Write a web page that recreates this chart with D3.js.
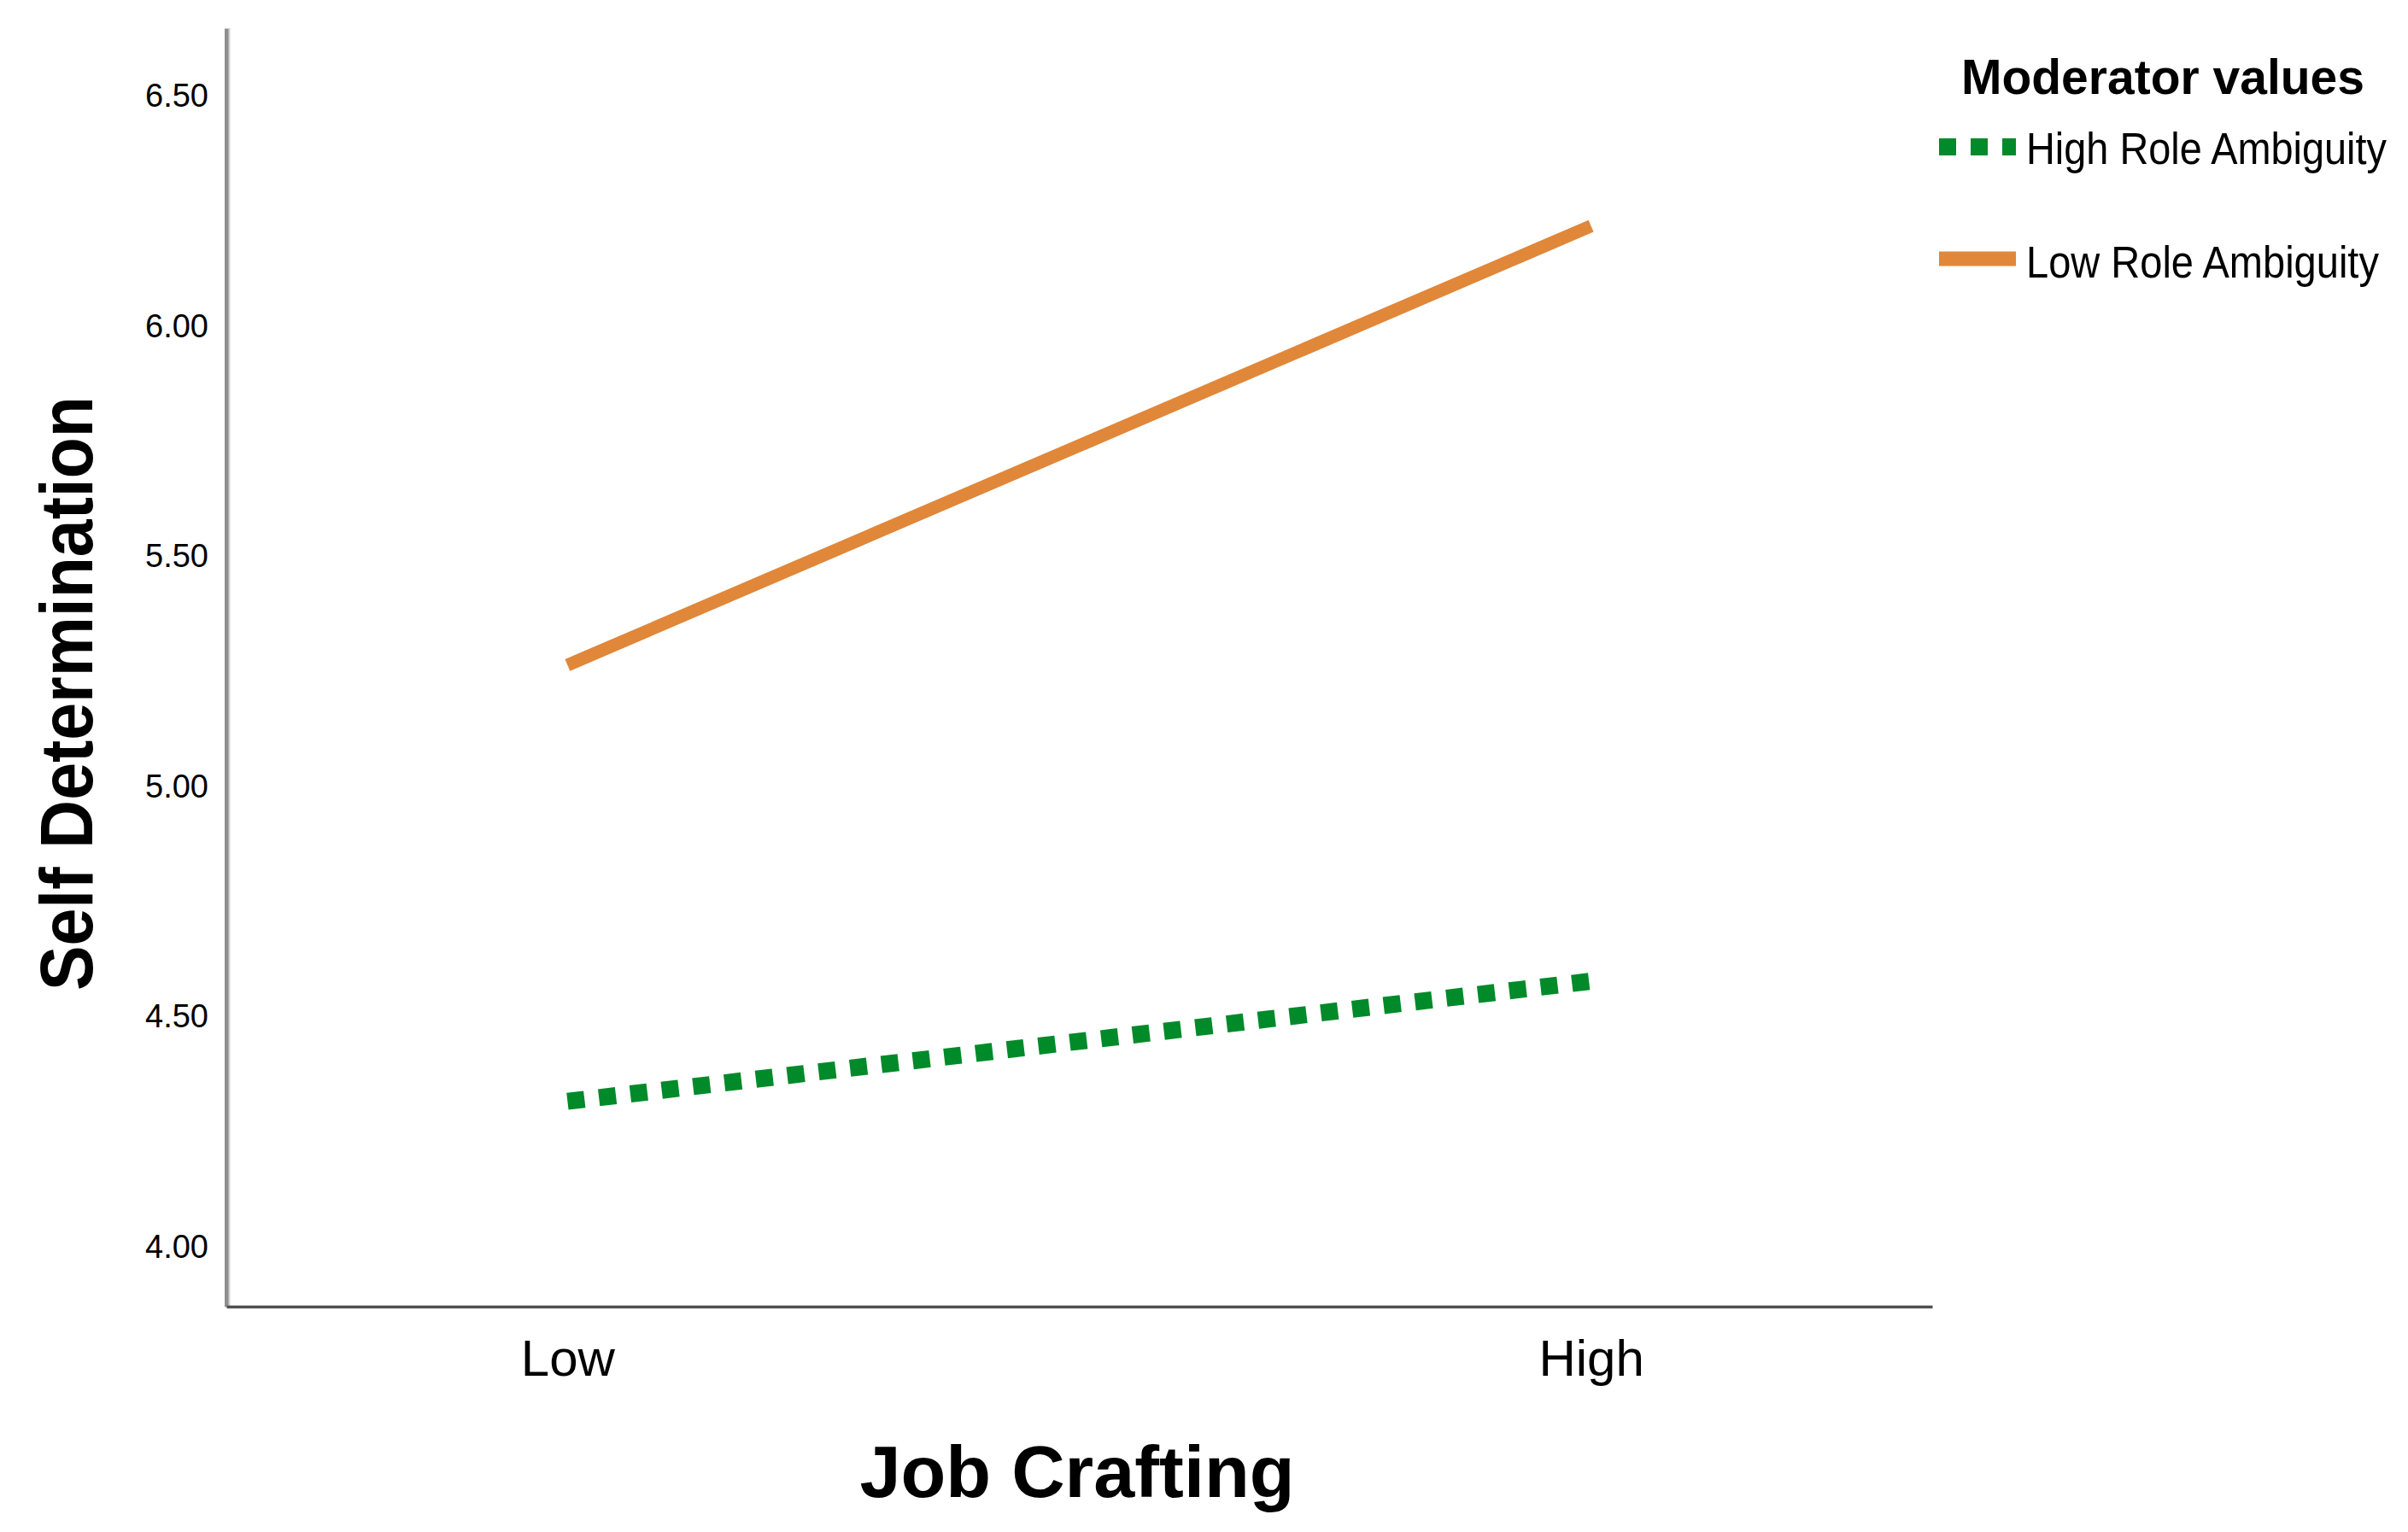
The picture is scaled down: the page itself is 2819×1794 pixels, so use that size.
<!DOCTYPE html>
<html>
<head>
<meta charset="utf-8">
<script src="https://cdn.jsdelivr.net/npm/d3@7"></script>
<style>
  body { margin: 0; background: #fff; }
  svg text { font-family: "Liberation Sans", Arial, sans-serif; fill: #000; }
</style>
</head>
<body>
<svg id="chart" width="2819" height="1794"></svg>
<script>
// data
var levels = ["Low", "High"];
var seriesNames = ["High Role Ambiguity", "Low Role Ambiguity"];
var highAmbiguity = [4.316, 4.577];
var lowAmbiguity = [5.264, 6.218];
var yTicks = [4.0, 4.5, 5.0, 5.5, 6.0, 6.5];
var colors = ["#008a2a", "#e0873a"];
var dashes = ["20,17", null];

var svg = d3.select("#chart"),
  margin = {top: 33, right: 557, bottom: 264, left: 265},
  width = +svg.attr("width") - margin.left - margin.right,
  height = +svg.attr("height") - margin.top - margin.bottom,
  g = svg.append("g").attr("transform", "translate(" + margin.left + "," + margin.top + ")");

var x = d3.scalePoint().domain(levels).range([0, width]).padding(1 / 3);
var y = d3.scaleLinear().domain([3.87, 6.648]).range([height, 0]);

var series = [highAmbiguity, lowAmbiguity].map(function(vals, i) {
  return {
    name: seriesNames[i],
    color: colors[i],
    dash: dashes[i],
    points: vals.map(function(v, j) { return {level: levels[j], value: v}; })
  };
});

// y axis
var yAxis = g.append("g")
  .call(d3.axisLeft(y).tickValues(yTicks).tickFormat(d3.format(".2f")).tickSize(0).tickSizeOuter(0).tickPadding(21));
yAxis.select(".domain").attr("stroke", "#8e8e8e").attr("stroke-width", 5);
yAxis.selectAll("text").style("font-size", "38px");
g.append("line")
  .attr("x1", 3.5).attr("x2", 3.5)
  .attr("y1", 0).attr("y2", height)
  .attr("stroke", "#d2d2d2").attr("stroke-width", 2);

// x axis
var xAxis = g.append("g")
  .attr("transform", "translate(0," + height + ")")
  .call(d3.axisBottom(x).tickSize(0).tickSizeOuter(0).tickPadding(38));
xAxis.select(".domain").attr("stroke", "#505050").attr("stroke-width", 3.5);
xAxis.selectAll("text").style("font-size", "60px");

// lines
var line = d3.line()
  .x(function(d) { return x(d.level); })
  .y(function(d) { return y(d.value); });

g.selectAll(".series")
  .data(series)
  .enter().append("path")
  .attr("class", "series")
  .attr("d", function(d) { return line(d.points); })
  .attr("fill", "none")
  .attr("stroke", function(d) { return d.color; })
  .attr("stroke-width", function(d) { return d.dash ? 20 : 15; })
  .attr("stroke-dasharray", function(d) { return d.dash; })
  .attr("stroke-linecap", "butt");

// axis titles
svg.append("text")
  .attr("x", 1261)
  .attr("y", 1753)
  .attr("text-anchor", "middle")
  .attr("font-weight", "bold")
  .attr("textLength", 509)
  .attr("lengthAdjust", "spacingAndGlyphs")
  .style("font-size", "86px")
  .text("Job Crafting");

svg.append("text")
  .attr("transform", "translate(108,812) rotate(-90)")
  .attr("text-anchor", "middle")
  .attr("font-weight", "bold")
  .attr("textLength", 696)
  .attr("lengthAdjust", "spacingAndGlyphs")
  .style("font-size", "88px")
  .text("Self Determination");

// legend
var legend = svg.append("g").attr("transform", "translate(2270,0)");

legend.append("text")
  .attr("x", 26)
  .attr("y", 110)
  .attr("font-weight", "bold")
  .attr("textLength", 472)
  .attr("lengthAdjust", "spacingAndGlyphs")
  .style("font-size", "57px")
  .text("Moderator values");

var legendRows = [172, 303];
var legendBase = [192, 325];
var legendWidths = [422, 413];

var item = legend.selectAll(".item")
  .data(series)
  .enter().append("g")
  .attr("class", "item");

item.append("line")
  .attr("x1", 0).attr("x2", 90)
  .attr("y1", function(d, i) { return legendRows[i]; })
  .attr("y2", function(d, i) { return legendRows[i]; })
  .attr("stroke", function(d) { return d.color; })
  .attr("stroke-width", function(d) { return d.dash ? 20 : 17; })
  .attr("stroke-dasharray", function(d) { return d.dash; });

// SPSS text is narrower than Liberation Sans: squeeze it horizontally
item.append("text")
  .style("font-size", "51px")
  .text(function(d) { return d.name; })
  .attr("transform", function(d, i) {
    var k = legendWidths[i] / this.getComputedTextLength();
    return "translate(102," + legendBase[i] + ") scale(" + k + ",1)";
  });
</script>
</body>
</html>
